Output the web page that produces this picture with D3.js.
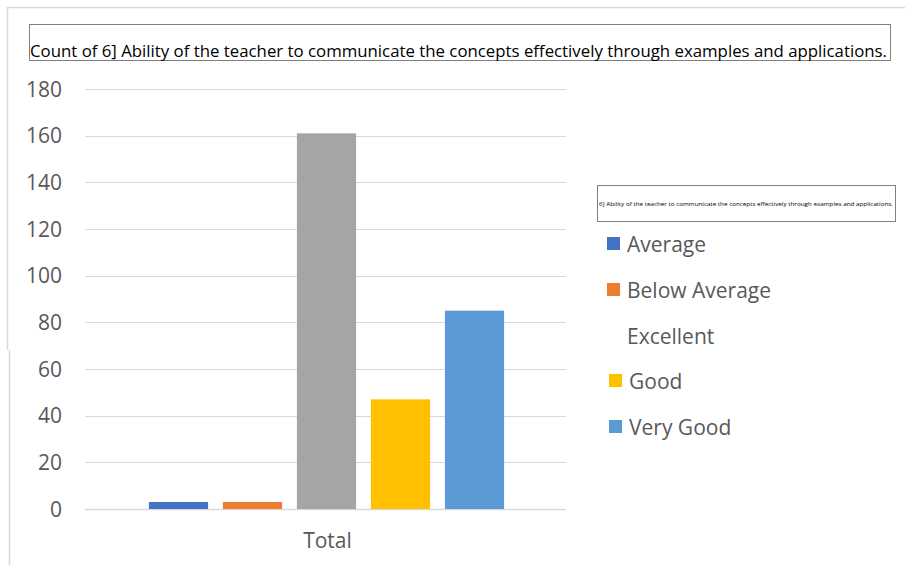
<!DOCTYPE html>
<html>
<head>
<meta charset="utf-8">
<script src="https://cdn.jsdelivr.net/npm/d3@7"></script>
<style>
  html, body { margin: 0; padding: 0; background: #fff; }
  svg { display: block; }
  text { font-family: "Open Sans", "Liberation Sans", sans-serif; }
</style>
</head>
<body>
<svg id="chart" width="905" height="565"></svg>
<script>
const categories = ["Average", "Below Average", "Excellent", "Good", "Very Good"];
const values = [3, 3, 161, 47, 85];
const colors = ["#4472C4", "#ED7D31", "#A5A5A5", "#FFC000", "#5B9BD5"];
const legendSwatch = ["#4472C4", "#ED7D31", "#FFFFFF", "#FFC000", "#5B9BD5"];
const yTicks = [0, 20, 40, 60, 80, 100, 120, 140, 160, 180];
const groupLabel = "Total";
const titleText = "Count of 6] Ability of the teacher to communicate the concepts effectively through examples and applications.";
const legendTitle = "6] Ability of the teacher to communicate the concepts effectively through examples and applications.";

const svg = d3.select("#chart");
const textColor = "#595959";
const fs = 21;

// outer frame
svg.append("line").attr("x1", 7).attr("x2", 905).attr("y1", 7.5).attr("y2", 7.5)
  .attr("stroke", "#d9d9d9").attr("stroke-width", 1.5);
svg.append("line").attr("x1", 7.5).attr("x2", 7.5).attr("y1", 7).attr("y2", 350)
  .attr("stroke", "#d9d9d9").attr("stroke-width", 1.5);
svg.append("line").attr("x1", 9.5).attr("x2", 9.5).attr("y1", 350).attr("y2", 565)
  .attr("stroke", "#d9d9d9").attr("stroke-width", 1.5);

// title box
svg.append("rect").attr("x", 29.5).attr("y", 24.5).attr("width", 861).attr("height", 36)
  .attr("fill", "none").attr("stroke", "#7f7f7f").attr("stroke-width", 1);
svg.append("text").attr("x", 30).attr("y", 56.5)
  .attr("font-size", 17).attr("fill", "#000")
  .attr("textLength", 857).attr("lengthAdjust", "spacingAndGlyphs")
  .text(titleText);

// scales
const y = d3.scaleLinear().domain([0, 180]).range([509, 89]);
const x0 = d3.scaleBand().domain([groupLabel]).range([85, 568]);
const x = d3.scaleBand().domain(categories).range([141.5, 511.5]).paddingInner(0.2).paddingOuter(0.1);

// gridlines
svg.append("g").selectAll("line").data(yTicks).join("line")
  .attr("x1", 85).attr("x2", 566)
  .attr("y1", d => Math.round(y(d)) + 0.5).attr("y2", d => Math.round(y(d)) + 0.5)
  .attr("stroke", "#d9d9d9").attr("stroke-width", d => d === 0 ? 1.5 : 1.2);

// y tick labels
svg.append("g").selectAll("text").data(yTicks).join("text")
  .attr("x", 62).attr("y", d => y(d)).attr("dy", "0.36em")
  .attr("text-anchor", "end").attr("font-size", fs).attr("fill", textColor)
  .text(d => d);

// bars
svg.append("g").selectAll("rect").data(categories).join("rect")
  .attr("x", d => x(d)).attr("width", x.bandwidth())
  .attr("y", (d, i) => y(values[i])).attr("height", (d, i) => y(0) - y(values[i]))
  .attr("fill", (d, i) => colors[i]);

// x label
svg.append("text").attr("x", x0(groupLabel) + x0.bandwidth() / 2 + 1).attr("y", 548)
  .attr("text-anchor", "middle").attr("font-size", fs).attr("fill", textColor)
  .text(groupLabel);

// legend box
svg.append("rect").attr("x", 597.5).attr("y", 185.5).attr("width", 298).attr("height", 36)
  .attr("fill", "none").attr("stroke", "#7f7f7f").attr("stroke-width", 1);
svg.append("text").attr("x", 746).attr("y", 206)
  .attr("text-anchor", "middle").attr("font-size", 5.5).attr("fill", "#000")
  .attr("textLength", 294).attr("lengthAdjust", "spacingAndGlyphs")
  .text(legendTitle);

// legend items
const legY = [244, 290, 336, 381, 427];
const lg = svg.append("g").selectAll("g").data(categories).join("g")
  .attr("transform", (d, i) => `translate(0,${legY[i]})`);
lg.append("rect").attr("x", (d, i) => i >= 3 ? 609 : 607).attr("y", -7).attr("width", 13).attr("height", 13)
  .attr("fill", (d, i) => legendSwatch[i]);
lg.append("text").attr("x", (d, i) => i >= 3 ? 629 : 627).attr("y", 0).attr("dy", "0.36em")
  .attr("font-size", fs).attr("fill", textColor)
  .text(d => d);
</script>
</body>
</html>
